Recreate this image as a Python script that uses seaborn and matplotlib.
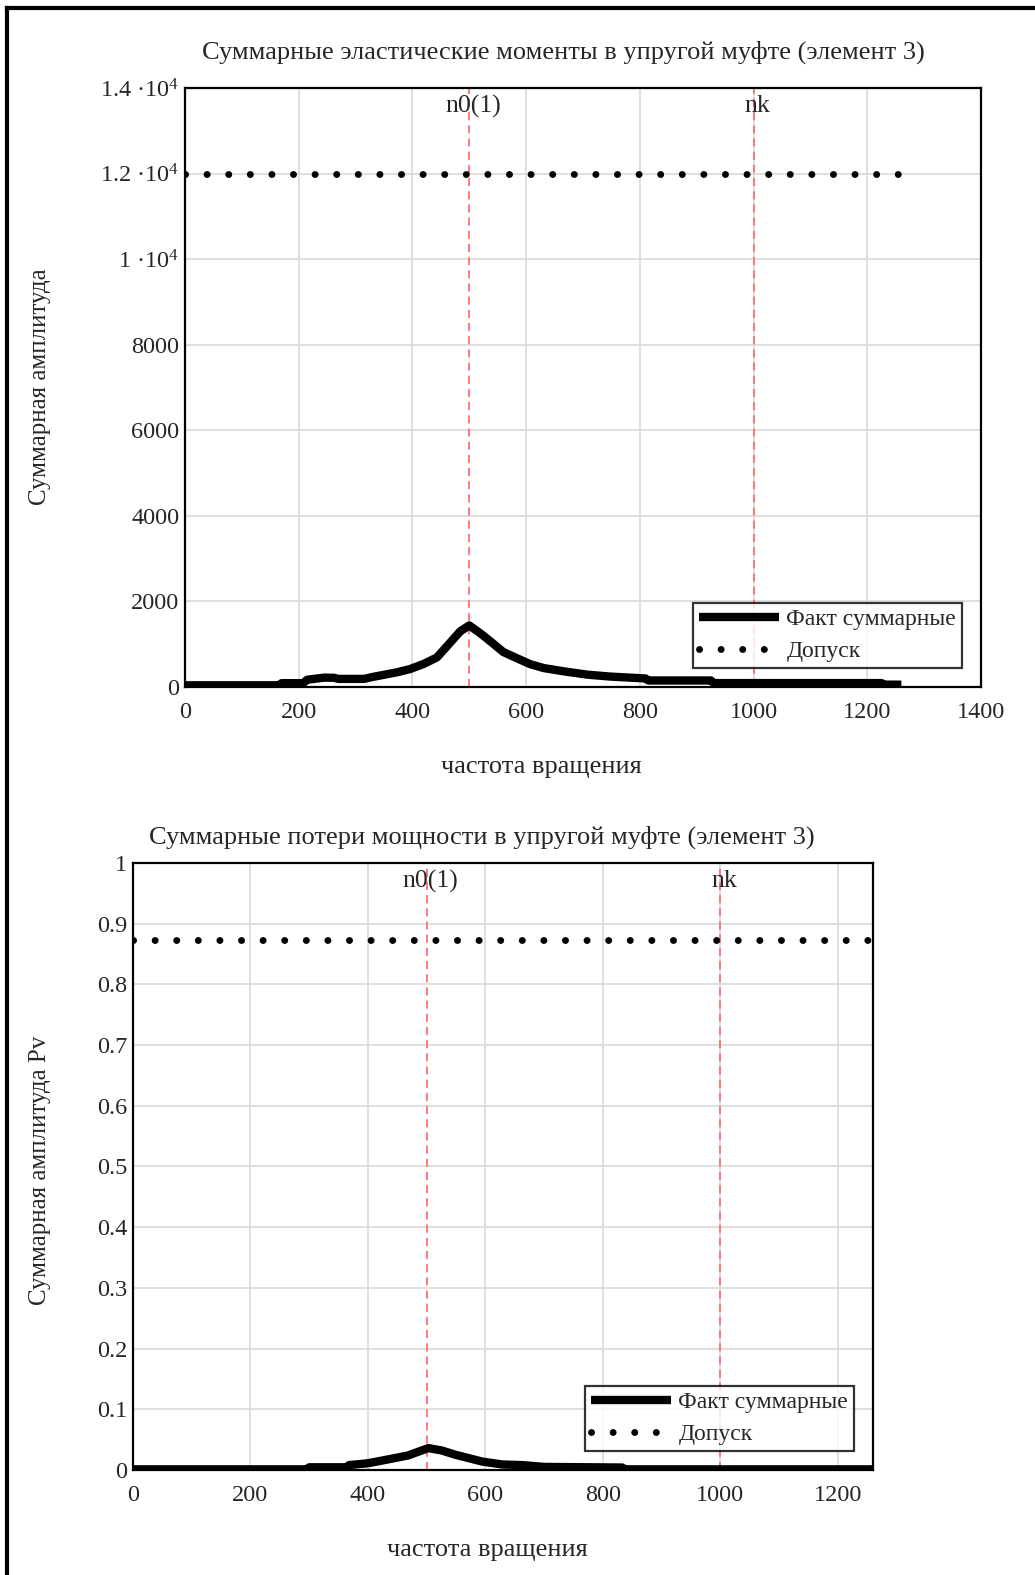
import matplotlib
matplotlib.use("Agg")
import matplotlib.pyplot as plt
import matplotlib.transforms as mtransforms
from matplotlib.lines import Line2D
import seaborn as sns

# ── data ─────────────────────────────────────────────────────
rpm_top = [0, 165, 170, 208, 215, 245, 262, 270, 315, 330, 373, 396, 419, 443,
           466, 484, 500, 519, 537, 560, 584, 607, 631, 666, 707, 748, 810, 815,
           925, 930, 1225, 1230, 1260]
moment_top = [40, 40, 90, 90, 170, 220, 215, 190, 190, 235, 344, 420, 535, 690,
              1030, 1300, 1440, 1260, 1070, 817, 672, 535, 443, 367, 290, 244,
              200, 153, 153, 92, 92, 55, 55]

rpm_bot = [0, 296, 300, 364, 368, 400, 435, 469, 480, 503, 526, 549, 595, 629,
           663, 700, 833, 838, 1260]
pv_bot = [0.001, 0.001, 0.0044, 0.0044, 0.008, 0.011, 0.0175, 0.024, 0.028,
          0.036, 0.032, 0.025, 0.0137, 0.009, 0.008, 0.005, 0.004, 0.001, 0.001]

tol_rpm = [0, 1260]
tol_top = [12000, 12000]
tol_bot = [0.873, 0.873]

markers_x = [500, 1000]
markers_lbl = ["n0(1)", "nk"]

xticks_top = [0, 200, 400, 600, 800, 1000, 1200, 1400]
yticks_top = [0, 2000, 4000, 6000, 8000, 10000, 12000, 14000]
yticklabels_top = ["0", "2000", "4000", "6000", "8000",
                   "1 ·10$^4$", "1.2 ·10$^4$", "1.4 ·10$^4$"]
xticks_bot = [0, 200, 400, 600, 800, 1000, 1200]
yticks_bot = [0, 0.1, 0.2, 0.3, 0.4, 0.5, 0.6, 0.7, 0.8, 0.9, 1]
yticklabels_bot = ["0", "0.1", "0.2", "0.3", "0.4", "0.5", "0.6", "0.7",
                   "0.8", "0.9", "1"]

sns.set_style("white")
plt.rcParams["font.family"] = ["Liberation Serif", "DejaVu Serif"]
plt.rcParams["mathtext.fontset"] = "custom"
plt.rcParams["mathtext.rm"] = "Liberation Serif"
plt.rcParams["mathtext.default"] = "regular"

FS = 17.5
fig = plt.figure(figsize=(10.35, 15.75), dpi=100)
ax1 = fig.add_axes([0.1787, 0.5638, 0.7691, 0.3803])
ax2 = fig.add_axes([0.1285, 0.0667, 0.7150, 0.3854])


def draw(ax, x, y, tol, xmax, ymax, xt, yt, ytl):
    for xv in xt:
        ax.axvline(xv, color="#d9d9d9", lw=1.2, zorder=0)
    for yv in yt:
        ax.axhline(yv, color="#d9d9d9", lw=1.2, zorder=0)
    for xv, lbl in zip(markers_x, markers_lbl):
        ax.axvline(xv, color="#ff7070", lw=1.3, linestyle=(0, (4.5, 2.8)), zorder=1)
        tr = mtransforms.blended_transform_factory(ax.transData, ax.transAxes)
        ax.text(xv + 7, 0.988, lbl, transform=tr, ha="center", va="top",
                fontsize=18.5, zorder=5)
    sns.lineplot(x=x, y=y, ax=ax, color="black", lw=6, sort=False,
                 estimator=None, label="Факт суммарные", zorder=3,
                 solid_capstyle="butt")
    sns.lineplot(x=tol_rpm, y=tol, ax=ax, color="black", lw=5, sort=False,
                 estimator=None, label="Допуск", zorder=3,
                 linestyle=(0, (0.01, 3.1)), dash_capstyle="round")
    ax.set_xlim(0, xmax)
    ax.set_ylim(0, ymax)
    ax.set_xticks(xt)
    ax.set_yticks(yt)
    ax.set_yticklabels(ytl)
    ax.tick_params(axis="both", length=0, labelsize=FS)
    ax.tick_params(axis="x", pad=11)
    ax.tick_params(axis="y", pad=4)
    ax.grid(False)
    for s in ax.spines.values():
        s.set_color("black")
        s.set_linewidth(1.6)
    ax.set_xlabel("")
    ax.set_ylabel("")
    leg = ax.legend(loc="lower right", fontsize=17, frameon=True,
                    fancybox=False, borderpad=0.25, handlelength=3.4,
                    handletextpad=0.3, labelspacing=0.45, borderaxespad=0.8)
    leg.get_frame().set_edgecolor("black")
    leg.get_frame().set_linewidth(1.6)


draw(ax1, rpm_top, moment_top, tol_top, 1400, 14000, xticks_top, yticks_top,
     yticklabels_top)
draw(ax2, rpm_bot, pv_bot, tol_bot, 1260, 1, xticks_bot, yticks_bot,
     yticklabels_bot)

fig.text(0.544, 0.9665, "Суммарные эластические моменты в упругой муфте (элемент 3)",
         ha="center", va="center", fontsize=19)
fig.text(0.4657, 0.4683, "Суммарные потери мощности в упругой муфте (элемент 3)",
         ha="center", va="center", fontsize=19)
fig.text(0.5227, 0.513, "частота вращения", ha="center", va="center", fontsize=19)
fig.text(0.4705, 0.0159, "частота вращения", ha="center", va="center", fontsize=19)
fig.text(0.0387, 0.7543, "Суммарная амплитуда", rotation=90, ha="center",
         va="center", fontsize=18)
fig.text(0.0387, 0.2571, "Суммарная амплитуда Pv", rotation=90, ha="center",
         va="center", fontsize=18)

# outer frame (left and top edges only visible)
fig.add_artist(Line2D([7 / 1035, 7 / 1035], [0, 1 - 8 / 1575], color="black",
                      lw=3, transform=fig.transFigure, solid_capstyle="projecting"))
fig.add_artist(Line2D([7 / 1035, 1], [1 - 8 / 1575, 1 - 8 / 1575], color="black",
                      lw=3, transform=fig.transFigure, solid_capstyle="projecting"))

fig.savefig("out.png", dpi=100)
plt.close(fig)
